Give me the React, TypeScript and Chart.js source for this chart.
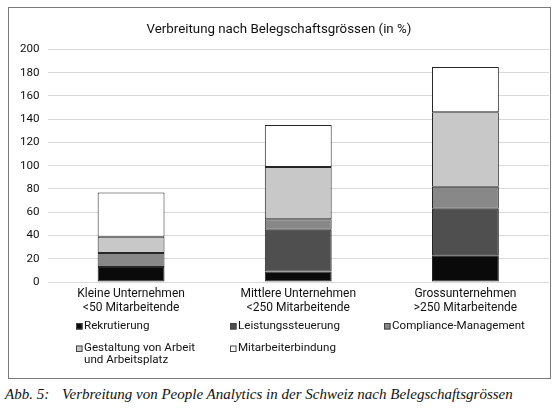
import { useEffect, useRef } from "react"
import { Chart, registerables } from "chart.js"

Chart.register(...registerables)

// Data (values in %)
const categories = [
  ["Kleine Unternehmen", "<50 Mitarbeitende"],
  ["Mittlere Unternehmen", "<250 Mitarbeitende"],
  ["Grossunternehmen", ">250 Mitarbeitende"],
]
const seriesLabels = [
  ["Rekrutierung"],
  ["Leistungssteuerung"],
  ["Compliance-Management"],
  ["Gestaltung von Arbeit", "und Arbeitsplatz"],
  ["Mitarbeiterbindung"],
]
const rekrutierung = [13, 9, 23]
const leistungssteuerung = [0, 36, 40]
const compliance = [12, 9, 19]
const gestaltung = [14, 45, 64]
const mitarbeiterbindung = [38, 36, 39]
const seriesColors = ["#0a0a0a", "#4f4f4f", "#888888", "#c8c8c8", "#ffffff"]
const yTicks = [0, 20, 40, 60, 80, 100, 120, 140, 160, 180, 200]

const FONT = "Roboto, 'Noto Sans', sans-serif"
const TEXT = "#111111"

// legend laid out as a 3 column grid below the axis labels
const gridLegend = {
  id: "gridLegend",
  afterDraw(chart: Chart) {
    const ctx = chart.ctx
    ctx.save()
    ctx.font = `11.6px ${FONT}`
    ctx.textBaseline = "middle"
    ctx.textAlign = "left"
    chart.data.datasets.forEach((ds, i) => {
      const x = 67 + (i % 3) * 154
      const y = 318 + Math.floor(i / 3) * 22.5
      ctx.fillStyle = ds.backgroundColor as string
      ctx.fillRect(x, y - 3, 6.5, 6.5)
      ctx.strokeStyle = "#444"
      ctx.lineWidth = 1
      ctx.strokeRect(x + 0.5, y - 2.5, 5.5, 5.5)
      ctx.fillStyle = TEXT
      seriesLabels[i].forEach((line, j) => ctx.fillText(line, x + 8, y + j * 12))
    })
    ctx.restore()
  },
}

export default function App() {
  const chartRef = useRef<HTMLCanvasElement>(null)
  const chartInstance = useRef<Chart | null>(null)

  useEffect(() => {
    if (!chartRef.current) return
    const series = [rekrutierung, leistungssteuerung, compliance, gestaltung, mitarbeiterbindung]

    chartInstance.current = new Chart(chartRef.current, {
      type: "bar",
      data: {
        labels: categories,
        datasets: series.map((data, i) => ({
          label: seriesLabels[i].join(" "),
          data,
          backgroundColor: seriesColors[i],
          borderColor: "#262626",
          borderWidth: 1,
          borderSkipped: false,
          categoryPercentage: 1,
          barPercentage: 0.4,
        })),
      },
      options: {
        responsive: true,
        maintainAspectRatio: false,
        animation: false,
        layout: { padding: { top: 14, left: 0, right: 0, bottom: 60 } },
        plugins: {
          legend: { display: false },
          tooltip: { enabled: false },
          title: {
            display: true,
            text: "Verbreitung nach Belegschaftsgrössen (in %)",
            color: TEXT,
            font: { family: FONT, size: 13.3, weight: "normal" },
            padding: { top: 0, bottom: 11.5 },
          },
        },
        scales: {
          x: {
            stacked: true,
            grid: { display: false, drawTicks: false },
            border: { display: false },
            ticks: {
              color: TEXT,
              padding: 5,
              maxRotation: 0,
              font: { family: FONT, size: 12, lineHeight: 1.17 },
            },
            afterFit: (scale) => {
              scale.height = 36
            },
          },
          y: {
            stacked: true,
            min: 0,
            max: 200,
            afterBuildTicks: (scale) => {
              scale.ticks = yTicks.map((value) => ({ value }))
            },
            grid: { color: "#d9d9d9", lineWidth: 1, drawTicks: false },
            border: { display: false },
            ticks: {
              color: TEXT,
              padding: 8,
              font: { family: FONT, size: 11.6 },
            },
            afterFit: (scale) => {
              scale.width = 38.5
            },
          },
        },
      },
      plugins: [gridLegend],
    })

    return () => {
      if (chartInstance.current) {
        chartInstance.current.destroy()
      }
    }
  }, [])

  return (
    <div>
      <div
        style={{
          position: "absolute",
          left: 8,
          top: 7,
          width: 543,
          height: 372,
          boxSizing: "border-box",
          border: "1px solid #7a7a7a",
        }}
      />
      <div style={{ position: "absolute", left: 9, top: 8, width: 540, height: 370 }}>
        <canvas ref={chartRef} />
      </div>
      <div
        style={{
          position: "absolute",
          top: 386,
          left: 0,
          width: 556,
          fontFamily: "'Liberation Serif', 'Times New Roman', serif",
          fontStyle: "italic",
          fontSize: 15,
          color: "#111",
        }}
      >
        <span style={{ position: "absolute", left: 5 }}>Abb. 5:</span>
        <span style={{ position: "absolute", left: 62, whiteSpace: "nowrap" }}>
          Verbreitung von People Analytics in der Schweiz nach Belegschaftsgrössen
        </span>
      </div>
    </div>
  )
}
